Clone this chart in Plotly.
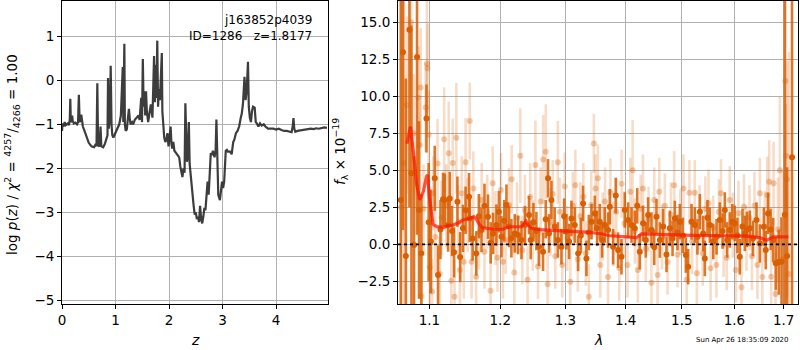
import plotly.graph_objects as go

# ---------------- left panel: log p(z) ----------------
z_grid = [0.00,0.01,0.03,0.05,0.07,0.09,0.11,0.13,0.145,0.155,0.165,0.18,0.19,0.20,0.22,0.25,0.28,0.30,0.315,0.33,
          0.35,0.36,0.37,0.39,0.42,0.46,0.50,0.55,0.60,0.63,0.645,0.66,0.675,0.70,0.72,0.735,0.77,0.80,0.83,0.85,
          0.86,0.875,0.895,0.91,0.925,0.94,0.96,0.98,1.00,1.04,1.07,1.10,1.12,1.135,1.145,1.155,1.165,1.175,1.19,1.21,
          1.23,1.25,1.265,1.28,1.31,1.33,1.36,1.40,1.43,1.45,1.48,1.495,1.51,1.525,1.54,1.555,1.57,1.585,1.61,1.64,
          1.66,1.69,1.72,1.735,1.75,1.765,1.78,1.795,1.81,1.83,1.85,1.865,1.875,1.89,1.91,1.93,1.95,1.97,1.99,2.01,
          2.03,2.045,2.06,2.08,2.10,2.13,2.16,2.19,2.21,2.23,2.25,2.27,2.29,2.305,2.32,2.335,2.35,2.37,2.385,2.40,
          2.42,2.44,2.46,2.48,2.50,2.52,2.54,2.56,2.58,2.60,2.62,2.64,2.66,2.68,2.70,2.72,2.74,2.76,2.77,2.78,
          2.80,2.82,2.85,2.87,2.885,2.90,2.92,2.95,2.97,2.99,3.01,3.03,3.06,3.08,3.10,3.14,3.17,3.20,3.22,3.25,
          3.28,3.31,3.34,3.36,3.38,3.41,3.43,3.45,3.475,3.49,3.51,3.53,3.55,3.57,3.60,3.62,3.64,3.67,3.70,3.73,
          3.77,3.80,3.85,3.90,3.95,4.00,4.05,4.10,4.15,4.20,4.25,4.29,4.31,4.325,4.34,4.36,4.40,4.45,4.50,4.55,
          4.60,4.65,4.70,4.75,4.80,4.85,4.90,4.95]
log_pz = [-1.15,-0.98,-1.05,-0.95,-1.02,-1.00,-0.98,-1.02,-0.90,-0.42,-0.95,-0.92,-0.80,-0.92,-0.98,-0.96,-1.00,-0.95,-0.33,-0.95,
          -0.90,-0.78,-0.92,-1.05,-1.15,-1.30,-1.42,-1.50,-1.52,-1.45,-1.50,-0.07,-1.48,-1.50,-1.05,-1.50,-1.52,-1.45,-1.30,-1.25,
          0.05,-1.10,-0.80,0.33,-1.00,-1.25,-1.30,-1.25,-1.20,-1.10,-1.00,-0.80,-0.20,0.30,-0.95,-0.30,0.83,-1.00,-1.15,-1.12,
          -0.90,-0.65,-0.85,-1.00,-0.95,-1.00,-0.90,-0.85,-0.80,-0.90,-0.40,-0.95,0.48,-0.60,-0.25,-0.80,-0.25,-0.70,-0.95,-0.70,
          -0.55,-0.85,0.55,-0.50,0.35,-0.40,0.90,-0.60,-0.20,-0.45,0.10,0.62,-0.70,-1.00,-1.30,-1.40,-1.35,-1.20,-1.50,-1.30,
          -1.05,-1.45,-1.55,-1.40,-1.60,-1.65,-1.70,-1.75,-1.95,-2.05,-2.20,-2.00,-2.10,-0.52,-1.60,-1.85,-1.75,-0.95,-1.90,-2.10,
          -2.45,-2.65,-2.85,-3.05,-3.00,-3.15,-3.10,-3.22,-2.85,-3.15,-3.25,-3.10,-2.90,-2.95,-2.70,-2.30,-2.60,-2.10,-1.84,-1.65,
          -1.70,-1.60,-1.75,-1.60,-0.89,-1.90,-2.60,-2.72,-2.55,-2.30,-2.45,-2.30,-1.60,-1.58,-1.62,-1.62,-1.68,-1.40,-1.35,-1.20,
          -1.15,-1.05,-0.85,-0.75,-0.55,0.08,-0.45,-0.25,0.42,-0.60,-0.85,-0.95,-0.70,-0.60,-0.62,-0.95,-0.98,-1.05,-0.98,-1.03,
          -1.00,-1.05,-1.10,-1.10,-1.10,-1.12,-1.10,-1.13,-1.15,-1.15,-1.17,-1.18,-1.05,-0.86,-1.10,-1.17,-1.15,-1.14,-1.13,-1.12,
          -1.12,-1.10,-1.11,-1.09,-1.10,-1.08,-1.07,-1.08]

# ---------------- right panel: spectrum ----------------
# binned spectrum (dark orange)
wave_bin = [1.0620,1.0649,1.0686,1.0733,1.0760,1.0794,1.0834,1.0860,1.0892,1.0960,1.0990,1.1020,
            1.1072,1.1117,1.1150,1.1186,1.1209,1.1255,1.1278,1.1310,1.1338,1.1385,1.1424,1.1463,1.1500,1.1549,
            1.1559,1.1600,1.1652,1.1690,1.1727,1.1770,1.1821,1.1860,1.1895,1.1944,1.1980,1.2018,1.2060,1.2092,
            1.2130,1.2166,1.2216,1.2266,1.2317,1.2370,1.2432,1.2458,1.2500,1.2545,1.2586,1.2648,1.2690,1.2726,
            1.2741,1.2779,1.2830,1.2880,1.2937,1.2980,1.3017,1.3060,1.3097,1.3151,1.3205,1.3250,1.3286,1.3341,
            1.3380,1.3424,1.3479,1.3517,1.3561,1.3600,1.3645,1.3700,1.3729,1.3785,1.3830,1.3870,1.3928,1.3985,
            1.4042,1.4101,1.4158,1.4200,1.4245,1.4303,1.4350,1.4391,1.4451,1.4500,1.4540,1.4600,1.4660,1.4720,
            1.4780,1.4830,1.4872,1.4920,1.4963,1.5020,1.5074,1.5117,1.5180,1.5242,1.5290,1.5336,1.5398,1.5430,
            1.5480,1.5525,1.5590,1.5654,1.5717,1.5770,1.5814,1.5860,1.5911,1.5960,1.6009,1.6060,1.6107,1.6160,
            1.6207,1.6250,1.6307,1.6370,1.6442,1.6508,1.6590,1.6630,1.6677,1.6730,1.6780,1.6836,1.6898,1.6955,
            1.7024,1.7071,1.7175]
flux_bin = [3.0,12.97,-0.79,14.5,4.8,-0.05,12.65,2.32,-0.61,8.5,1.5,0.2,
            4.46,-2.07,1.0,3.04,2.99,1.3,3.1,0.9,-0.54,2.88,-0.86,1.08,2.3,3.22,
            1.75,0.4,-0.61,1.9,0.97,2.6,1.87,0.1,0.74,1.3,2.2,0.51,1.6,2.65,
            1.2,0.41,0.74,0.63,0.29,1.3,1.98,0.29,1.5,0.9,-0.16,-0.5,1.7,4.46,
            0.74,2.99,1.2,0.3,-0.16,1.9,0.85,0.2,1.75,1.3,-0.61,0.6,2.76,-0.95,
            0.8,1.53,2.09,1.08,1.53,0.3,1.3,0.97,2.54,-0.16,3.3,-0.39,-0.84,2.32,
            1.64,1.3,1.08,2.6,-0.5,1.42,0.3,1.98,0.97,-0.2,1.87,0.29,1.2,-0.68,
            1.08,0.4,1.75,0.8,1.53,0.6,-0.72,-1.51,1.53,1.3,0.5,2.21,0.74,-0.95,
            1.8,1.3,0.2,0.51,1.64,0.9,2.32,0.3,0.97,1.53,1.42,0.6,-0.84,1.2,
            0.74,1.01,1.08,0.4,1.64,0.06,1.19,-0.39,2.09,1.01,0.29,-1.28,-1.2,-1.17,
            2.0,-0.79,5.88]
err_bin = [20,12,12,12,10,6,12,6,4,2.3,4,3.5,
           2.2,2.0,2.0,1.8,1.8,1.8,1.8,1.7,1.7,1.7,1.7,1.6,1.6,1.6,
           1.6,1.5,1.5,1.5,1.5,1.5,1.5,1.4,1.4,1.4,1.4,1.4,1.4,1.4,
           1.4,1.3,1.3,1.3,1.3,1.3,1.3,1.3,1.3,1.3,1.3,1.3,1.3,1.3,
           1.3,1.3,1.3,1.2,1.2,1.2,1.2,1.2,1.2,1.2,1.2,1.2,1.2,1.2,
           1.2,1.2,1.2,1.2,1.2,1.2,1.2,1.2,1.2,1.2,1.2,1.2,1.2,1.2,
           1.2,1.2,1.2,1.2,1.2,1.2,1.2,1.2,1.2,1.2,1.2,1.2,1.2,1.2,
           1.2,1.2,1.2,1.2,1.2,1.2,1.2,1.2,1.2,1.2,1.2,1.2,1.2,1.2,
           1.2,1.2,1.2,1.2,1.2,1.2,1.2,1.2,1.2,1.2,1.2,1.2,1.2,1.2,
           1.2,1.2,1.2,1.2,1.2,1.3,1.3,1.3,1.4,1.4,1.5,1.8,2.2,3.0,
           20,6,20]

# unbinned spectrum (light orange)
wave_raw = [1.0625,1.0660,1.0699,1.0754,1.0790,1.0852,1.0870,1.0882,1.0890,1.0920,1.0949,1.0966,1.0975,1.0990,
            1.1004,1.1035,1.1050,1.1080,1.1110,1.1140,1.1165,1.1201,1.1230,1.1264,1.1300,1.1320,1.1345,1.1370,
            1.1395,1.1420,1.1445,1.1475,1.1500,1.1530,1.1559,1.1585,1.1610,1.1650,1.1690,1.1730,1.1770,1.1810,
            1.1858,1.1890,1.1930,1.1960,1.2010,1.2040,1.2080,1.2130,1.2170,1.2210,1.2250,1.2300,1.2330,1.2370,
            1.2410,1.2450,1.2490,1.2530,1.2570,1.2610,1.2650,1.2690,1.2720,1.2760,1.2800,1.2840,1.2880,1.2913,
            1.2950,1.2990,1.3030,1.3080,1.3120,1.3160,1.3200,1.3240,1.3290,1.3330,1.3380,1.3420,1.3463,1.3490,
            1.3530,1.3570,1.3610,1.3650,1.3700,1.3740,1.3790,1.3840,1.3890,1.3930,1.3980,1.4030,1.4080,1.4120,
            1.4160,1.4210,1.4260,1.4300,1.4350,1.4400,1.4450,1.4500,1.4560,1.4590,1.4640,1.4690,1.4740,1.4800,
            1.4860,1.4920,1.4970,1.5030,1.5090,1.5140,1.5190,1.5240,1.5280,1.5330,1.5390,1.5440,1.5500,1.5540,
            1.5590,1.5650,1.5700,1.5740,1.5790,1.5850,1.5910,1.5970,1.6030,1.6080,1.6140,1.6190,1.6240,1.6300,
            1.6350,1.6400,1.6460,1.6510,1.6560,1.6610,1.6660,1.6700,1.6740,1.6790,1.6830,1.6880,1.6920,1.6980,
            1.7035,1.7045,1.7070,1.7110]
flux_raw = [2.5,5.5,9.4,15.0,7.5,9.9,6.7,10.6,-3.5,2.4,9.25,12.2,11.9,7.4,
            -1.55,-3.18,3.45,0.5,5.47,-2.0,1.8,7.1,2.6,6.15,-2.46,5.5,-3.54,7.2,
            1.5,-1.74,3.45,-1.17,5.54,2.0,8.33,-1.17,3.78,-2.19,0.8,3.0,-0.5,2.2,
            -3.13,4.12,1.1,-0.9,3.67,-1.17,0.3,2.65,4.4,-1.9,1.8,5.99,-0.4,2.3,
            -2.4,3.2,0.6,5.36,-1.5,2.9,5.74,6.26,-2.7,1.5,3.4,-0.8,5.54,2.2,
            -1.4,3.9,0.4,-2.53,2.6,4.0,-1.0,1.9,3.2,-0.6,-3.54,2.65,6.82,3.78,
            4.46,-1.4,1.2,2.9,-2.2,3.5,0.7,2.2,-1.6,4.1,1.4,-1.4,3.55,5.0,
            0.9,-1.74,2.4,3.78,-0.3,1.7,-2.6,3.0,-2.07,3.55,0.5,2.6,-1.2,2.0,
            4.0,-0.7,1.5,3.78,-2.4,3.49,0.2,3.49,-1.96,1.8,-0.6,2.4,2.77,-1.62,
            1.1,-1.4,2.2,3.45,0.0,-0.9,2.99,1.3,-1.74,2.1,-2.9,2.54,0.4,1.8,
            -0.8,2.6,-1.4,3.45,-2.2,1.2,3.33,4.23,-2.19,4.12,-3.36,1.0,5.0,-1.0,
            11.03,5.99,4.4,-2.0]
err_raw = [15,12,6,5,4,3.5,3,4,3,3,3,4.5,3,3,
           2.5,2.2,2.5,2.5,3,2.5,2.5,3.5,2.8,3.5,2.5,3,2.5,3.7,
           2.5,2.5,2.5,2.5,3,2.5,2.6,2.5,2.5,2.5,2.5,2.5,2.5,2.5,
           2.5,2.5,2.5,2.3,2.5,2.5,2.3,2.5,2.3,2.3,2.4,3.2,2.3,2.4,
           2.3,2.3,2.4,3,2.2,2.3,3,3.2,2.2,2.3,2.3,2.2,2.8,2.3,
           2.2,2.3,2.2,2.2,2.3,2.4,2.2,2.3,2.3,2.2,2.2,2.3,2.0,2.3,
           2.3,2.2,2.3,2.3,2.2,2.3,2.2,2.3,2.2,2.3,2.2,2.2,2.3,3.4,
           2.2,2.2,2.3,2.3,2.2,2.2,2.2,2.2,2.2,2.3,2.2,2.2,2.2,2.2,
           2.3,2.2,2.2,2.3,2.2,2.2,2.2,2.2,2.2,2.2,2.2,2.2,2.3,2.2,
           2.2,2.2,2.2,2.3,2.2,2.2,2.3,2.2,2.2,2.2,2.2,2.2,2.2,2.2,
           2.3,2.3,2.3,2.4,2.4,2.4,2.6,2.8,2.6,2.8,2.8,3.5,5.0,6,
           10,3.5,8,15]

# best-fit model (red)
wave_model = [1.0701,1.0746,1.0790,1.0830,1.0870,1.0920,1.0960,1.0975,1.1000,1.1049,1.1100,1.1140,1.1200,
              1.1250,1.1323,1.1400,1.1464,1.1550,1.1616,1.1660,1.1702,1.1750,1.1799,1.1900,1.2041,1.2100,
              1.2166,1.2319,1.2384,1.2430,1.2471,1.2600,1.2800,1.3071,1.3397,1.3600,1.3730,1.4016,1.4186,
              1.4274,1.4600,1.5211,1.5800,1.6241,1.6509,1.6646,1.6782,1.7098]
flux_model = [6.8,7.95,6.0,4.0,3.0,3.6,4.57,4.7,3.2,1.35,1.2,1.19,1.15,
              1.25,1.3,1.45,1.64,1.75,1.87,1.65,1.3,1.12,1.08,1.02,1.03,1.15,
              1.19,1.19,1.57,1.25,1.08,1.0,0.95,0.9,0.81,0.7,0.58,0.51,0.45,
              0.70,0.65,0.6,0.58,0.55,0.45,0.27,0.5,0.5]

lam_ticks = [1.1, 1.2, 1.3, 1.4, 1.5, 1.6, 1.7]

FONT = "DejaVu Sans"
DARK = "#d95f02"

fig = go.Figure()

fig.add_trace(go.Scatter(x=z_grid, y=log_pz, mode="lines",
                         line=dict(color="rgba(40,40,40,0.9)", width=2.2),
                         xaxis="x", yaxis="y", showlegend=False))

fig.add_trace(go.Scatter(x=wave_raw, y=flux_raw, mode="markers",
                         marker=dict(color="rgba(217,95,2,0.33)", size=6),
                         error_y=dict(type="data", array=err_raw, color="rgba(217,95,2,0.22)",
                                      thickness=2.6, width=0),
                         xaxis="x2", yaxis="y2", showlegend=False))

fig.add_trace(go.Scatter(x=wave_bin, y=flux_bin, mode="markers",
                         marker=dict(color=DARK, size=6),
                         error_y=dict(type="data", array=err_bin, color="rgba(217,95,2,0.85)",
                                      thickness=2.6, width=0),
                         xaxis="x2", yaxis="y2", showlegend=False))

fig.add_trace(go.Scatter(x=wave_model, y=flux_model, mode="lines",
                         line=dict(color="rgba(255,20,0,0.72)", width=3.2),
                         xaxis="x2", yaxis="y2", showlegend=False))

axis_common = dict(showline=True, mirror=True, linecolor="black", linewidth=1,
                   ticks="outside", ticklen=4, tickcolor="black", automargin=False,
                   showgrid=True, gridcolor="#b0b0b0", gridwidth=1, zeroline=False,
                   tickfont=dict(family=FONT, size=13.5, color="black"))

fig.update_layout(
    width=800, height=350,
    margin=dict(l=0, r=0, t=0, b=0),
    paper_bgcolor="white", plot_bgcolor="white",
    font=dict(family=FONT, color="black"),
    xaxis=dict(domain=[62/800, 328/800], range=[0, 4.97], tickvals=[0, 1, 2, 3, 4],
               anchor="y", **axis_common),
    yaxis=dict(domain=[46/350, 349/350], range=[-5.08, 1.80], tickvals=[-5, -4, -3, -2, -1, 0, 1],
               anchor="x", **axis_common),
    xaxis2=dict(domain=[398/800, 798/800], type="log", range=[0.024624, 0.238084],
                tickvals=lam_ticks, ticktext=[f"{v:.1f}" for v in lam_ticks],
                anchor="y2", **axis_common),
    yaxis2=dict(domain=[46/350, 349/350], range=[-4.03, 16.44], dtick=2.5, tick0=0,
                tickformat=".1f", anchor="x2", **axis_common),
)

fig.add_shape(type="line", xref="x2 domain", yref="y2", x0=0, x1=1, y0=0, y1=0,
              line=dict(color="black", width=1.6, dash="dot"))

ann = [
    dict(text="j163852p4039", x=313.5/800, y=(350-20)/350, xanchor="right", yanchor="middle", size=12),
    dict(text="ID=1286\u00a0\u00a0\u00a0z=1.8177", x=313.5/800, y=(350-35.5)/350, xanchor="right", yanchor="middle", size=12),
    dict(text="<i>z</i>", x=195/800, y=(350-340)/350, xanchor="center", yanchor="middle", size=14),
    dict(text="<i>λ</i>", x=598/800, y=(350-340)/350, xanchor="center", yanchor="middle", size=14),
    dict(text="Sun Apr 26 18:35:09 2020", x=742/800, y=(350-339.5)/350, xanchor="center", yanchor="middle", size=7),
]
for a in ann:
    fig.add_annotation(text=a["text"], xref="paper", yref="paper", x=a["x"], y=a["y"],
                       xanchor=a["xanchor"], yanchor=a["yanchor"], showarrow=False,
                       font=dict(family=FONT, size=a["size"], color="black"))

fig.add_annotation(text="log <i>p</i>(<i>z</i>) / <i>χ</i><sup>2</sup> = <sup>4257</sup>/<sub>4266</sub> = 1.00",
                   xref="paper", yref="paper", x=12/800, y=(350-155)/350, textangle=-90,
                   xanchor="center", yanchor="middle", showarrow=False,
                   font=dict(family=FONT, size=13.5, color="black"))
fig.add_annotation(text="<i>f</i><sub>λ</sub> × 10<sup>−19</sup>",
                   xref="paper", yref="paper", x=340/800, y=(350-152)/350, textangle=-90,
                   xanchor="center", yanchor="middle", showarrow=False,
                   font=dict(family=FONT, size=13.5, color="black"))

fig.write_html("out.html", config={"displayModeBar": False},
               post_script="document.body.style.margin='0';document.body.style.overflow='hidden';")
